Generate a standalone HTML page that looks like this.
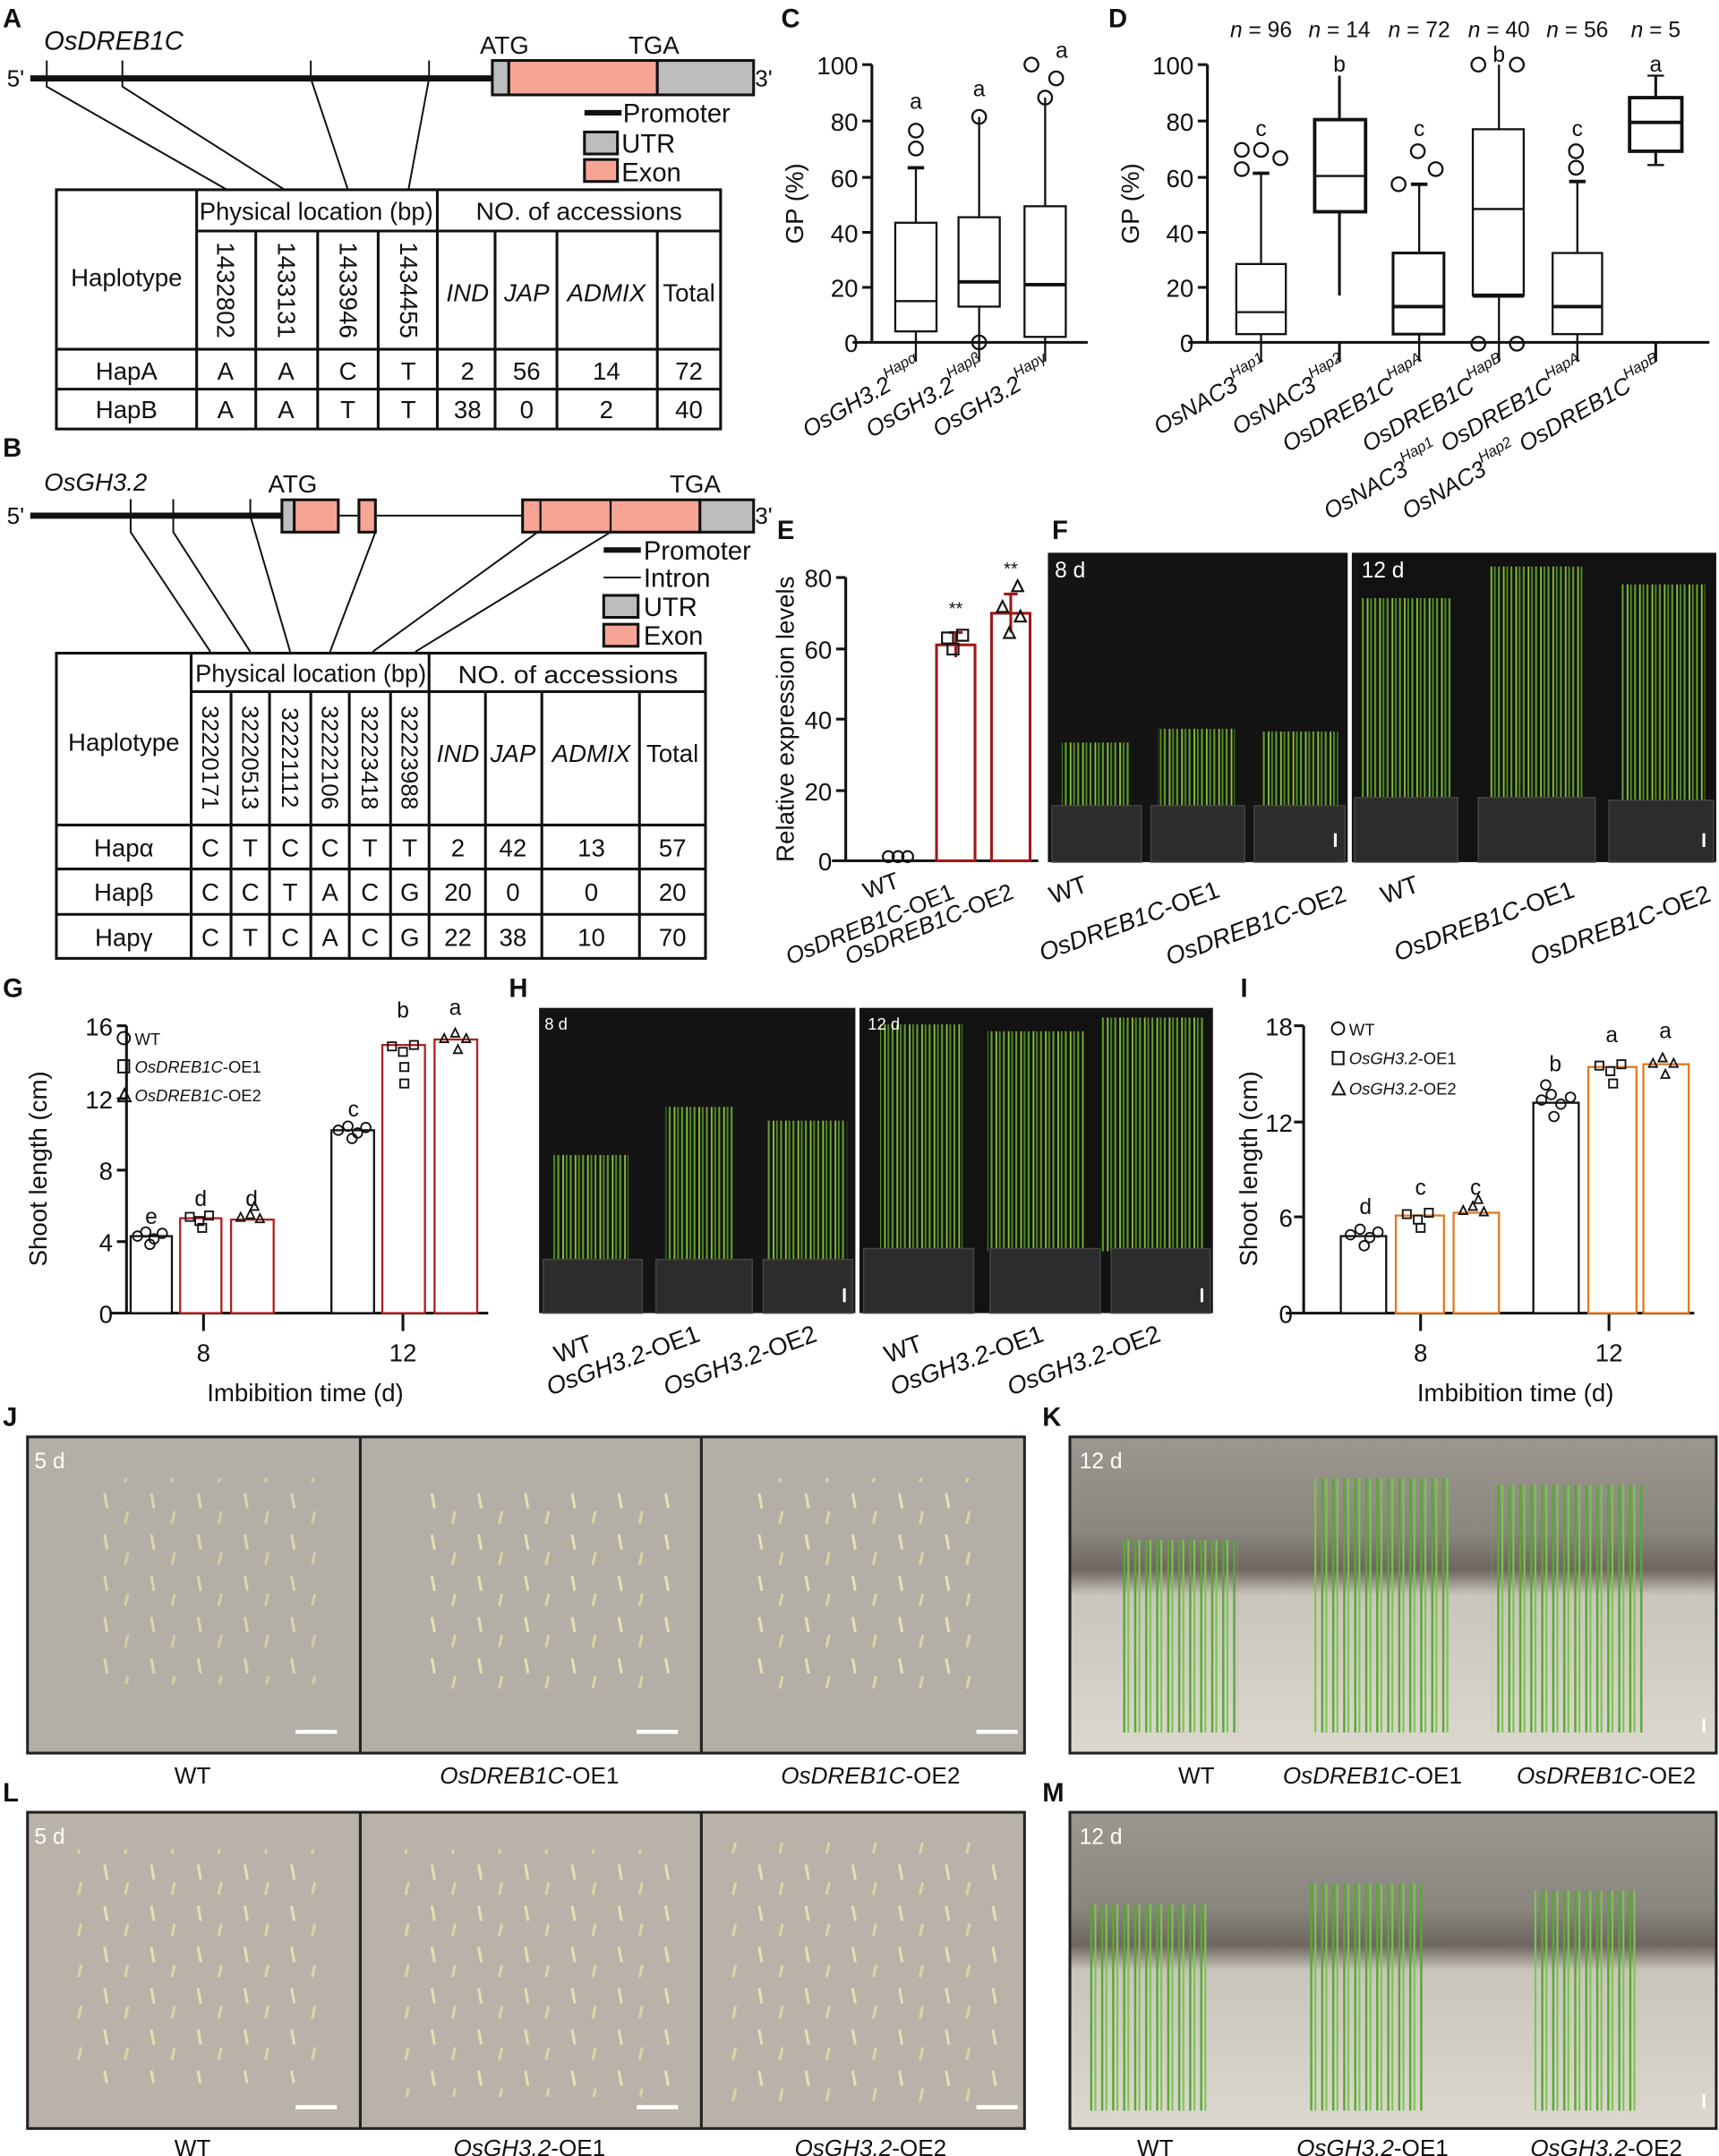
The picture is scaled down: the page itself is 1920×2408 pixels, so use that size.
<!DOCTYPE html>
<html><head><meta charset="utf-8"><style>
html,body{margin:0;padding:0;background:#fff}
svg{display:block}
text{font-family:"Liberation Sans",Arial,sans-serif;fill:#111}
.i{font-style:italic}
.b{font-weight:bold}
</style></head><body>
<svg width="1920" height="2408" viewBox="0 0 1250 1568" preserveAspectRatio="none" xmlns="http://www.w3.org/2000/svg">
<defs>
<pattern id="grass" patternUnits="userSpaceOnUse" width="9" height="300">
<line x1="1" y1="0" x2="1" y2="300" stroke="#5f9e2a" stroke-width="1.4"/>
<line x1="4.5" y1="0" x2="4.5" y2="300" stroke="#8cc43c" stroke-width="1.2"/>
<line x1="7" y1="0" x2="7" y2="300" stroke="#4d8a22" stroke-width="1.3"/>
</pattern>
<pattern id="grass2" patternUnits="userSpaceOnUse" width="8" height="300">
<line x1="1.5" y1="0" x2="1.5" y2="300" stroke="#5aa832" stroke-width="1.6"/>
<line x1="4.5" y1="0" x2="4.5" y2="300" stroke="#7cc64a" stroke-width="1.4"/>
</pattern>
<pattern id="seed" patternUnits="userSpaceOnUse" width="34" height="30">
<line x1="8" y1="6" x2="10" y2="17" stroke="#e6dfb6" stroke-width="2"/>
<line x1="25" y1="19" x2="23" y2="28" stroke="#ddd4a6" stroke-width="2"/>
</pattern>
<linearGradient id="wall" x1="0" y1="0" x2="0" y2="1">
<stop offset="0" stop-color="#9c9890"/><stop offset="0.3" stop-color="#8a8680"/><stop offset="0.42" stop-color="#6e6660"/><stop offset="0.5" stop-color="#c9c5bd"/><stop offset="1" stop-color="#dcd8d0"/>
</linearGradient>
</defs>

<!-- ============ PANEL A ============ -->
<text x="2" y="20" class="b" font-size="19">A</text>
<text x="32" y="36" class="i" font-size="19">OsDREB1C</text>
<text x="349" y="39" font-size="18">ATG</text>
<text x="457" y="39" font-size="18">TGA</text>
<text x="5" y="63" font-size="17">5'</text>
<text x="549" y="63" font-size="17">3'</text>
<line x1="22" y1="57" x2="358" y2="57" stroke="#111" stroke-width="4.5"/>
<rect x="358" y="44" width="12" height="25" fill="#bdbdbd" stroke="#111" stroke-width="2"/>
<rect x="370" y="44" width="108" height="25" fill="#f6a594" stroke="#111" stroke-width="2"/>
<rect x="478" y="44" width="70" height="25" fill="#bdbdbd" stroke="#111" stroke-width="2"/>
<g stroke="#111" stroke-width="1.3" fill="none">
<polyline points="34,44 34,63 165,138"/>
<polyline points="89,44 89,63 207,138"/>
<polyline points="226,44 226,57 253,138"/>
<polyline points="312,44 312,57 297,138"/>
</g>
<line x1="425" y1="82" x2="452" y2="82" stroke="#111" stroke-width="4"/>
<text x="453" y="89" font-size="19">Promoter</text>
<rect x="425" y="96" width="24" height="16" fill="#bdbdbd" stroke="#111" stroke-width="2"/>
<text x="452" y="111" font-size="19">UTR</text>
<rect x="425" y="116" width="24" height="16" fill="#f6a594" stroke="#111" stroke-width="2"/>
<text x="452" y="132" font-size="19">Exon</text>
<g stroke="#111" stroke-width="2" fill="none">
<rect x="41" y="138" width="483" height="174"/>
<line x1="143" y1="138" x2="143" y2="312"/>
<line x1="318" y1="138" x2="318" y2="312"/>
<line x1="143" y1="168" x2="524" y2="168"/>
<line x1="41" y1="254" x2="524" y2="254"/>
<line x1="41" y1="283" x2="524" y2="283"/>
<line x1="186" y1="168" x2="186" y2="312"/>
<line x1="231" y1="168" x2="231" y2="312"/>
<line x1="275" y1="168" x2="275" y2="312"/>
<line x1="360" y1="168" x2="360" y2="312"/>
<line x1="405" y1="168" x2="405" y2="312"/>
<line x1="478" y1="168" x2="478" y2="312"/>
</g>
<g font-size="18" text-anchor="middle">
<text x="230" y="160" textLength="170" lengthAdjust="spacingAndGlyphs">Physical location (bp)</text>
<text x="421" y="160" textLength="150" lengthAdjust="spacingAndGlyphs">NO. of accessions</text>
<text x="92" y="208">Haplotype</text>
<text x="340" y="219" class="i">IND</text>
<text x="383" y="219" class="i">JAP</text>
<text x="441" y="219" class="i">ADMIX</text>
<text x="501" y="219">Total</text>
<text x="92" y="276">HapA</text><text x="164" y="276">A</text><text x="208" y="276">A</text><text x="253" y="276">C</text><text x="297" y="276">T</text><text x="340" y="276">2</text><text x="383" y="276">56</text><text x="441" y="276">14</text><text x="501" y="276">72</text>
<text x="92" y="304">HapB</text><text x="164" y="304">A</text><text x="208" y="304">A</text><text x="253" y="304">T</text><text x="297" y="304">T</text><text x="340" y="304">38</text><text x="383" y="304">0</text><text x="441" y="304">2</text><text x="501" y="304">40</text>
</g>
<g font-size="18" text-anchor="middle">
<text transform="translate(158,211) rotate(90)">1432802</text>
<text transform="translate(202,211) rotate(90)">1433131</text>
<text transform="translate(247,211) rotate(90)">1433946</text>
<text transform="translate(291,211) rotate(90)">1434455</text>
</g>

<!-- ============ PANEL B ============ -->
<text x="2" y="332" class="b" font-size="19">B</text>
<text x="32" y="357" class="i" font-size="18">OsGH3.2</text>
<text x="195" y="358" font-size="18">ATG</text>
<text x="487" y="358" font-size="18">TGA</text>
<text x="5" y="381" font-size="17">5'</text>
<text x="549" y="381" font-size="17">3'</text>
<line x1="22" y1="375" x2="206" y2="375" stroke="#111" stroke-width="4.5"/>
<line x1="246" y1="375" x2="380" y2="375" stroke="#111" stroke-width="1.3"/>
<rect x="205" y="363.5" width="9" height="23.5" fill="#bdbdbd" stroke="#111" stroke-width="2"/>
<rect x="214" y="363.5" width="32" height="23.5" fill="#f6a594" stroke="#111" stroke-width="2"/>
<rect x="261" y="363.5" width="12" height="23.5" fill="#f6a594" stroke="#111" stroke-width="2"/>
<rect x="380" y="363.5" width="129" height="23.5" fill="#f6a594" stroke="#111" stroke-width="2"/>
<line x1="393" y1="363.5" x2="393" y2="387" stroke="#111" stroke-width="1.5"/>
<line x1="444" y1="363.5" x2="444" y2="387" stroke="#111" stroke-width="1.5"/>
<rect x="509" y="363.5" width="39" height="23.5" fill="#bdbdbd" stroke="#111" stroke-width="2"/>
<g stroke="#111" stroke-width="1.3" fill="none">
<polyline points="95,363 95,387 153,474"/>
<polyline points="126,363 126,387 182,474"/>
<polyline points="182,363 182,375 211,474"/>
<line x1="273" y1="387" x2="240" y2="474"/>
<line x1="391" y1="387" x2="271" y2="474"/>
<line x1="444" y1="387" x2="302" y2="474"/>
</g>
<line x1="439" y1="400" x2="466" y2="400" stroke="#111" stroke-width="4"/>
<text x="468" y="407" font-size="19">Promoter</text>
<line x1="439" y1="420" x2="466" y2="420" stroke="#111" stroke-width="1.3"/>
<text x="468" y="427" font-size="19">Intron</text>
<rect x="439" y="433" width="25" height="16" fill="#bdbdbd" stroke="#111" stroke-width="2"/>
<text x="468" y="448" font-size="19">UTR</text>
<rect x="439" y="454" width="25" height="16" fill="#f6a594" stroke="#111" stroke-width="2"/>
<text x="468" y="469" font-size="19">Exon</text>
<g stroke="#111" stroke-width="2" fill="none">
<rect x="41" y="475" width="472" height="222"/>
<line x1="139" y1="475" x2="139" y2="697"/>
<line x1="312" y1="475" x2="312" y2="697"/>
<line x1="139" y1="503" x2="513" y2="503"/>
<line x1="41" y1="600" x2="513" y2="600"/>
<line x1="41" y1="632" x2="513" y2="632"/>
<line x1="41" y1="665" x2="513" y2="665"/>
<line x1="168" y1="503" x2="168" y2="697"/>
<line x1="196" y1="503" x2="196" y2="697"/>
<line x1="226" y1="503" x2="226" y2="697"/>
<line x1="254" y1="503" x2="254" y2="697"/>
<line x1="284" y1="503" x2="284" y2="697"/>
<line x1="353" y1="503" x2="353" y2="697"/>
<line x1="394" y1="503" x2="394" y2="697"/>
<line x1="465" y1="503" x2="465" y2="697"/>
</g>
<g font-size="18" text-anchor="middle">
<text x="226" y="496" textLength="168" lengthAdjust="spacingAndGlyphs">Physical location (bp)</text>
<text x="413" y="497" textLength="160" lengthAdjust="spacingAndGlyphs">NO. of accessions</text>
<text x="90" y="546">Haplotype</text>
<text x="333" y="554" class="i">IND</text>
<text x="373" y="554" class="i">JAP</text>
<text x="430" y="554" class="i">ADMIX</text>
<text x="489" y="554">Total</text>
<text x="90" y="623">Hapα</text><text x="153" y="623">C</text><text x="182" y="623">T</text><text x="211" y="623">C</text><text x="240" y="623">C</text><text x="269" y="623">T</text><text x="298" y="623">T</text><text x="333" y="623">2</text><text x="373" y="623">42</text><text x="430" y="623">13</text><text x="489" y="623">57</text>
<text x="90" y="655">Hapβ</text><text x="153" y="655">C</text><text x="182" y="655">C</text><text x="211" y="655">T</text><text x="240" y="655">A</text><text x="269" y="655">C</text><text x="298" y="655">G</text><text x="333" y="655">20</text><text x="373" y="655">0</text><text x="430" y="655">0</text><text x="489" y="655">20</text>
<text x="90" y="688">Hapγ</text><text x="153" y="688">C</text><text x="182" y="688">T</text><text x="211" y="688">C</text><text x="240" y="688">A</text><text x="269" y="688">C</text><text x="298" y="688">G</text><text x="333" y="688">22</text><text x="373" y="688">38</text><text x="430" y="688">10</text><text x="489" y="688">70</text>
</g>
<g font-size="17" text-anchor="middle">
<text transform="translate(147,551) rotate(90)">32220171</text>
<text transform="translate(176,551) rotate(90)">32220513</text>
<text transform="translate(205,551) rotate(90)">32221112</text>
<text transform="translate(234,551) rotate(90)">32222106</text>
<text transform="translate(263,551) rotate(90)">32223418</text>
<text transform="translate(292,551) rotate(90)">32223988</text>
</g>

<!-- ============ PANEL C ============ -->
<text x="568" y="20" class="b" font-size="19">C</text>
<g stroke="#111" stroke-width="2" fill="none">
<line x1="634" y1="47" x2="634" y2="249"/>
<line x1="620" y1="249" x2="791" y2="249"/>
<line x1="627" y1="47" x2="634" y2="47"/><line x1="627" y1="88" x2="634" y2="88"/><line x1="627" y1="129" x2="634" y2="129"/><line x1="627" y1="169" x2="634" y2="169"/><line x1="627" y1="209" x2="634" y2="209"/>
</g>
<g font-size="18" text-anchor="end">
<text x="624" y="54">100</text><text x="624" y="95">80</text><text x="624" y="136">60</text><text x="624" y="176">40</text><text x="624" y="216">20</text><text x="624" y="256">0</text>
</g>
<text transform="translate(584,148) rotate(-90)" font-size="18" text-anchor="middle">GP (%)</text>
<g stroke="#111" stroke-width="1.5" fill="none">
<line x1="666" y1="122" x2="666" y2="263"/><line x1="660" y1="122" x2="672" y2="122" stroke-width="2.5"/>
<rect x="651" y="162" width="30" height="79" fill="#fff"/><line x1="651" y1="219" x2="681" y2="219"/>
<circle cx="666" cy="108" r="5"/><circle cx="666" cy="95" r="5"/>
<line x1="712" y1="85" x2="712" y2="263"/>
<rect x="697" y="158" width="30" height="65" fill="#fff"/><line x1="697" y1="205" x2="727" y2="205" stroke-width="2.5"/>
<circle cx="712" cy="85" r="5"/><circle cx="712" cy="249" r="5"/>
<line x1="760" y1="71" x2="760" y2="263"/>
<rect x="745" y="150" width="30" height="95" fill="#fff"/><line x1="745" y1="207" x2="775" y2="207" stroke-width="2.5"/>
<circle cx="760" cy="71" r="5"/><circle cx="768" cy="57" r="5"/><circle cx="750" cy="47" r="5"/>
</g>
<g font-size="16" text-anchor="middle"><text x="666" y="79">a</text><text x="712" y="70">a</text><text x="772" y="42">a</text></g>
<g font-size="17" class="i" text-anchor="end">
<text transform="translate(672,270) rotate(-30)">OsGH3.2<tspan font-size="11" dy="-9">Hapα</tspan></text>
<text transform="translate(718,270) rotate(-30)">OsGH3.2<tspan font-size="11" dy="-9">Hapβ</tspan></text>
<text transform="translate(766,270) rotate(-30)">OsGH3.2<tspan font-size="11" dy="-9">Hapγ</tspan></text>
</g>

<!-- ============ PANEL D ============ -->
<text x="806" y="20" class="b" font-size="19">D</text>
<g font-size="16" text-anchor="middle">
<text x="917" y="27"><tspan class="i">n</tspan> = 96</text>
<text x="974" y="27"><tspan class="i">n</tspan> = 14</text>
<text x="1032" y="27"><tspan class="i">n</tspan> = 72</text>
<text x="1090" y="27"><tspan class="i">n</tspan> = 40</text>
<text x="1147" y="27"><tspan class="i">n</tspan> = 56</text>
<text x="1204" y="27"><tspan class="i">n</tspan> = 5</text>
</g>
<g stroke="#111" stroke-width="2" fill="none">
<line x1="878" y1="47" x2="878" y2="249"/>
<line x1="864" y1="249" x2="1243" y2="249"/>
<line x1="871" y1="47" x2="878" y2="47"/><line x1="871" y1="88" x2="878" y2="88"/><line x1="871" y1="129" x2="878" y2="129"/><line x1="871" y1="169" x2="878" y2="169"/><line x1="871" y1="209" x2="878" y2="209"/>
</g>
<g font-size="18" text-anchor="end">
<text x="868" y="54">100</text><text x="868" y="95">80</text><text x="868" y="136">60</text><text x="868" y="176">40</text><text x="868" y="216">20</text><text x="868" y="256">0</text>
</g>
<text transform="translate(828,148) rotate(-90)" font-size="18" text-anchor="middle">GP (%)</text>
<g stroke="#111" stroke-width="1.5" fill="none">
<line x1="917" y1="126" x2="917" y2="263"/><line x1="911" y1="126" x2="923" y2="126" stroke-width="2.5"/>
<rect x="899" y="192" width="36" height="51" fill="#fff"/><line x1="899" y1="227" x2="935" y2="227"/>
<circle cx="903" cy="123" r="5"/><circle cx="903" cy="109" r="5"/><circle cx="917" cy="109" r="5"/><circle cx="931" cy="115" r="5"/>
<line x1="974" y1="55" x2="974" y2="215" stroke-width="2"/>
<rect x="956" y="87" width="37" height="67" fill="#fff" stroke-width="2.5"/><line x1="956" y1="128" x2="993" y2="128"/>
<line x1="1032" y1="134" x2="1032" y2="263"/><line x1="1026" y1="134" x2="1038" y2="134" stroke-width="2.5"/>
<rect x="1013" y="184" width="37" height="59" fill="#fff" stroke-width="2"/><line x1="1013" y1="223" x2="1050" y2="223" stroke-width="2.5"/>
<circle cx="1017" cy="134" r="5"/><circle cx="1031" cy="110" r="5"/><circle cx="1044" cy="123" r="5"/>
<line x1="1090" y1="47" x2="1090" y2="263"/>
<rect x="1071" y="94" width="37" height="121" fill="#fff"/><line x1="1071" y1="152" x2="1108" y2="152"/><line x1="1071" y1="215" x2="1108" y2="215" stroke-width="3"/>
<circle cx="1075" cy="47" r="5"/><circle cx="1103" cy="47" r="5"/><circle cx="1075" cy="250" r="5"/><circle cx="1103" cy="250" r="5"/>
<line x1="1147" y1="132" x2="1147" y2="263"/><line x1="1141" y1="132" x2="1153" y2="132" stroke-width="2.5"/>
<rect x="1129" y="184" width="36" height="59" fill="#fff"/><line x1="1129" y1="223" x2="1165" y2="223" stroke-width="2.5"/>
<circle cx="1146" cy="122" r="5"/><circle cx="1146" cy="110" r="5"/>
<line x1="1204" y1="55" x2="1204" y2="120" stroke-width="2"/><line x1="1198" y1="55" x2="1210" y2="55"/><line x1="1198" y1="120" x2="1210" y2="120"/>
<rect x="1185" y="71" width="38" height="39" fill="#fff" stroke-width="2.5"/><line x1="1185" y1="89" x2="1223" y2="89" stroke-width="2.5"/>
<line x1="1204" y1="249" x2="1204" y2="263" stroke-width="2"/><line x1="974" y1="249" x2="974" y2="263" stroke-width="2"/>
</g>
<g font-size="16" text-anchor="middle"><text x="917" y="99">c</text><text x="974" y="52">b</text><text x="1032" y="99">c</text><text x="1090" y="45">b</text><text x="1147" y="99">c</text><text x="1204" y="52">a</text></g>
<g font-size="17" class="i" text-anchor="end">
<text transform="translate(924,270) rotate(-30)">OsNAC3<tspan font-size="11" dy="-9">Hap1</tspan></text>
<text transform="translate(981,270) rotate(-30)">OsNAC3<tspan font-size="11" dy="-9">Hap2</tspan></text>
<text transform="translate(1039,270) rotate(-30)">OsDREB1C<tspan font-size="11" dy="-9">HapA</tspan></text>
<text transform="translate(1097,270) rotate(-30)">OsDREB1C<tspan font-size="11" dy="-9">HapB</tspan></text>
<text transform="translate(1154,270) rotate(-30)">OsNAC3<tspan font-size="11" dy="-9">Hap1</tspan><tspan dy="9"> OsDREB1C</tspan><tspan font-size="11" dy="-9">HapA</tspan></text>
<text transform="translate(1211,270) rotate(-30)">OsNAC3<tspan font-size="11" dy="-9">Hap2</tspan><tspan dy="9"> OsDREB1C</tspan><tspan font-size="11" dy="-9">HapB</tspan></text>
</g>

<!-- ============ PANEL E ============ -->
<text x="565" y="392" class="b" font-size="19">E</text>
<g stroke="#111" stroke-width="2" fill="none">
<line x1="615" y1="420" x2="615" y2="626"/>
<line x1="605" y1="626" x2="755" y2="626"/>
<line x1="608" y1="420" x2="615" y2="420"/><line x1="608" y1="472" x2="615" y2="472"/><line x1="608" y1="523" x2="615" y2="523"/><line x1="608" y1="575" x2="615" y2="575"/>
</g>
<g font-size="18" text-anchor="end"><text x="605" y="427">80</text><text x="605" y="479">60</text><text x="605" y="530">40</text><text x="605" y="582">20</text><text x="605" y="633">0</text></g>
<text transform="translate(577,523) rotate(-90)" font-size="18" text-anchor="middle">Relative expression levels</text>
<g stroke="#a01818" stroke-width="2" fill="#fff">
<rect x="681" y="469" width="28" height="157"/>
<rect x="721" y="446" width="28" height="180"/>
<line x1="695" y1="460" x2="695" y2="478"/><line x1="690" y1="460" x2="700" y2="460"/>
<line x1="735" y1="432" x2="735" y2="460"/><line x1="730" y1="432" x2="740" y2="432"/>
</g>
<g stroke="#111" stroke-width="1.4" fill="none">
<circle cx="646" cy="623" r="4"/><circle cx="653" cy="623" r="4"/><circle cx="660" cy="623" r="4"/>
<rect x="685" y="460" width="8" height="8"/><rect x="696" y="458" width="8" height="8"/><rect x="689" y="468" width="8" height="8"/>
<path d="M725,445 l4,-8 l4,8z"/><path d="M736,430 l4,-8 l4,8z"/><path d="M730,464 l4,-8 l4,8z"/><path d="M738,452 l4,-8 l4,8z"/>
</g>
<g font-size="13" text-anchor="middle"><text x="695" y="447">**</text><text x="735" y="418">**</text></g>
<g font-size="17" text-anchor="end">
<text transform="translate(655,645) rotate(-20)">WT</text>
<text transform="translate(695,653) rotate(-22)"><tspan class="i">OsDREB1C</tspan>-OE1</text>
<text transform="translate(738,653) rotate(-22)"><tspan class="i">OsDREB1C</tspan>-OE2</text>
</g>

<!-- ============ PANEL F ============ -->
<text x="765" y="392" class="b" font-size="19">F</text>
<rect x="762" y="402" width="218" height="225" fill="#141414"/>
<rect x="983" y="402" width="265" height="225" fill="#121212"/>
<rect x="772" y="540" width="50" height="48" fill="url(#grass)"/>
<rect x="842" y="530" width="56" height="58" fill="url(#grass)"/>
<rect x="918" y="532" width="55" height="56" fill="url(#grass)"/>
<rect x="990" y="435" width="65" height="150" fill="url(#grass)"/>
<rect x="1082" y="412" width="70" height="173" fill="url(#grass)"/>
<rect x="1178" y="425" width="62" height="160" fill="url(#grass)"/>
<g fill="#2c2c2c" stroke="#444" stroke-width="1">
<rect x="765" y="586" width="65" height="41"/><rect x="837" y="586" width="68" height="41"/><rect x="912" y="586" width="66" height="41"/>
<rect x="985" y="580" width="75" height="47"/><rect x="1075" y="580" width="85" height="47"/><rect x="1170" y="582" width="76" height="45"/>
</g>
<text x="767" y="420" font-size="16" style="fill:#fff">8 d</text>
<text x="990" y="420" font-size="16" style="fill:#fff">12 d</text>
<rect x="970" y="606" width="2" height="10" fill="#fff"/><rect x="1238" y="606" width="2" height="10" fill="#fff"/>
<g font-size="18" text-anchor="end">
<text transform="translate(792,648) rotate(-20)">WT</text>
<text transform="translate(888,652) rotate(-20)"><tspan class="i">OsDREB1C</tspan>-OE1</text>
<text transform="translate(980,655) rotate(-20)"><tspan class="i">OsDREB1C</tspan>-OE2</text>
<text transform="translate(1033,648) rotate(-20)">WT</text>
<text transform="translate(1146,652) rotate(-20)"><tspan class="i">OsDREB1C</tspan>-OE1</text>
<text transform="translate(1245,655) rotate(-20)"><tspan class="i">OsDREB1C</tspan>-OE2</text>
</g>

<!-- ============ PANEL G ============ -->
<text x="2" y="725" class="b" font-size="19">G</text>
<g stroke="#111" stroke-width="2" fill="none">
<line x1="92" y1="746" x2="92" y2="955"/><line x1="80" y1="955" x2="355" y2="955"/>
<line x1="85" y1="746" x2="92" y2="746"/><line x1="85" y1="799" x2="92" y2="799"/><line x1="85" y1="851" x2="92" y2="851"/><line x1="85" y1="903" x2="92" y2="903"/>
<line x1="148" y1="955" x2="148" y2="968"/><line x1="293" y1="955" x2="293" y2="968"/>
</g>
<g font-size="18" text-anchor="end"><text x="82" y="753">16</text><text x="82" y="806">12</text><text x="82" y="858">8</text><text x="82" y="910">4</text><text x="82" y="962">0</text></g>
<text transform="translate(34,850) rotate(-90)" font-size="18" text-anchor="middle">Shoot length (cm)</text>
<g stroke-width="1.5" fill="#fff">
<rect x="95" y="899" width="30" height="56" stroke="#111"/>
<rect x="131" y="886" width="30" height="69" stroke="#b02020"/>
<rect x="168" y="887" width="31" height="68" stroke="#b02020"/>
<rect x="241" y="822" width="31" height="133" stroke="#111"/>
<rect x="278" y="760" width="31" height="195" stroke="#b02020"/>
<rect x="316" y="756" width="31" height="199" stroke="#b02020"/>
</g>
<g stroke="#111" stroke-width="1.2" fill="none">
<circle cx="100" cy="899" r="3.5"/><circle cx="106" cy="896" r="3.5"/><circle cx="112" cy="901" r="3.5"/><circle cx="118" cy="897" r="3.5"/><circle cx="109" cy="905" r="3.5"/>
<rect x="135" y="882" width="6" height="6"/><rect x="142" y="885" width="6" height="6"/><rect x="149" y="881" width="6" height="6"/><rect x="144" y="890" width="6" height="6"/>
<path d="M172,888 l3,-6 l3,6z"/><path d="M179,886 l3,-6 l3,6z"/><path d="M186,889 l3,-6 l3,6z"/><path d="M182,880 l3,-6 l3,6z"/>
<circle cx="246" cy="822" r="3.5"/><circle cx="253" cy="819" r="3.5"/><circle cx="260" cy="824" r="3.5"/><circle cx="266" cy="820" r="3.5"/><circle cx="256" cy="828" r="3.5"/>
<rect x="282" y="758" width="6" height="6"/><rect x="290" y="762" width="6" height="6"/><rect x="298" y="757" width="6" height="6"/><rect x="291" y="773" width="6" height="6"/><rect x="291" y="785" width="6" height="6"/>
<path d="M320,758 l3,-6 l3,6z"/><path d="M328,754 l3,-6 l3,6z"/><path d="M336,758 l3,-6 l3,6z"/><path d="M330,766 l3,-6 l3,6z"/>
</g>
<g font-size="16" text-anchor="middle"><text x="110" y="890">e</text><text x="146" y="877">d</text><text x="183" y="877">d</text><text x="257" y="812">c</text><text x="293" y="740">b</text><text x="331" y="738">a</text></g>
<g font-size="12">
<circle cx="90" cy="755" r="4.5" fill="none" stroke="#111" stroke-width="1.3"/><text x="98" y="760">WT</text>
<rect x="86" y="771" width="8" height="9" fill="none" stroke="#111" stroke-width="1.3"/><text x="98" y="780"><tspan class="i">OsDREB1C</tspan>-OE1</text>
<path d="M86,801 l4.5,-9 l4.5,9z" fill="none" stroke="#111" stroke-width="1.3"/><text x="98" y="801"><tspan class="i">OsDREB1C</tspan>-OE2</text>
</g>
<g font-size="18" text-anchor="middle"><text x="148" y="990">8</text><text x="293" y="990">12</text><text x="222" y="1019">Imbibition time (d)</text></g>

<!-- ============ PANEL H ============ -->
<text x="370" y="725" class="b" font-size="19">H</text>
<rect x="392" y="733" width="230" height="222" fill="#141414"/>
<rect x="625" y="733" width="257" height="222" fill="#121212"/>
<rect x="402" y="840" width="55" height="78" fill="url(#grass)"/>
<rect x="484" y="805" width="50" height="113" fill="url(#grass)"/>
<rect x="558" y="815" width="58" height="103" fill="url(#grass)"/>
<rect x="640" y="745" width="60" height="165" fill="url(#grass)"/>
<rect x="718" y="750" width="70" height="160" fill="url(#grass)"/>
<rect x="800" y="740" width="75" height="170" fill="url(#grass)"/>
<g fill="#2c2c2c" stroke="#444" stroke-width="1">
<rect x="395" y="916" width="72" height="39"/><rect x="477" y="916" width="70" height="39"/><rect x="555" y="916" width="65" height="39"/>
<rect x="628" y="908" width="80" height="47"/><rect x="720" y="908" width="80" height="47"/><rect x="808" y="908" width="72" height="47"/>
</g>
<text x="396" y="749" font-size="12" style="fill:#fff">8 d</text>
<text x="631" y="749" font-size="12" style="fill:#fff">12 d</text>
<rect x="613" y="937" width="2" height="10" fill="#fff"/><rect x="873" y="937" width="2" height="10" fill="#fff"/>
<g font-size="18" text-anchor="end">
<text transform="translate(432,982) rotate(-20)">WT</text>
<text transform="translate(510,975) rotate(-20)"><tspan class="i">OsGH3.2</tspan>-OE1</text>
<text transform="translate(595,975) rotate(-20)"><tspan class="i">OsGH3.2</tspan>-OE2</text>
<text transform="translate(672,982) rotate(-20)">WT</text>
<text transform="translate(760,975) rotate(-20)"><tspan class="i">OsGH3.2</tspan>-OE1</text>
<text transform="translate(845,975) rotate(-20)"><tspan class="i">OsGH3.2</tspan>-OE2</text>
</g>

<!-- ============ PANEL I ============ -->
<text x="902" y="725" class="b" font-size="19">I</text>
<g stroke="#111" stroke-width="2" fill="none">
<line x1="948" y1="746" x2="948" y2="955"/><line x1="935" y1="955" x2="1232" y2="955"/>
<line x1="941" y1="746" x2="948" y2="746"/><line x1="941" y1="816" x2="948" y2="816"/><line x1="941" y1="885" x2="948" y2="885"/>
<line x1="1033" y1="955" x2="1033" y2="968"/><line x1="1170" y1="955" x2="1170" y2="968"/>
</g>
<g font-size="18" text-anchor="end"><text x="940" y="753">18</text><text x="940" y="823">12</text><text x="940" y="892">6</text><text x="940" y="962">0</text></g>
<text transform="translate(914,850) rotate(-90)" font-size="18" text-anchor="middle">Shoot length (cm)</text>
<g stroke-width="1.5" fill="#fff">
<rect x="975" y="899" width="33" height="56" stroke="#111"/>
<rect x="1015" y="884" width="35" height="71" stroke="#e07a20"/>
<rect x="1057" y="882" width="33" height="73" stroke="#e07a20"/>
<rect x="1115" y="802" width="33" height="153" stroke="#111"/>
<rect x="1155" y="776" width="35" height="179" stroke="#e07a20"/>
<rect x="1195" y="774" width="33" height="181" stroke="#e07a20"/>
</g>
<g stroke="#111" stroke-width="1.2" fill="none">
<circle cx="982" cy="898" r="3.5"/><circle cx="989" cy="894" r="3.5"/><circle cx="996" cy="900" r="3.5"/><circle cx="1002" cy="896" r="3.5"/><circle cx="992" cy="906" r="3.5"/>
<rect x="1020" y="880" width="6" height="6"/><rect x="1028" y="884" width="6" height="6"/><rect x="1036" y="879" width="6" height="6"/><rect x="1030" y="890" width="6" height="6"/>
<path d="M1061,883 l3,-6 l3,6z"/><path d="M1068,880 l3,-6 l3,6z"/><path d="M1076,884 l3,-6 l3,6z"/><path d="M1072,875 l3,-6 l3,6z"/>
<circle cx="1121" cy="800" r="3.5"/><circle cx="1128" cy="796" r="3.5"/><circle cx="1135" cy="803" r="3.5"/><circle cx="1142" cy="798" r="3.5"/><circle cx="1130" cy="812" r="3.5"/><circle cx="1124" cy="789" r="3.5"/>
<rect x="1160" y="772" width="6" height="6"/><rect x="1168" y="776" width="6" height="6"/><rect x="1176" y="771" width="6" height="6"/><rect x="1170" y="785" width="6" height="6"/>
<path d="M1199,776 l3,-6 l3,6z"/><path d="M1206,772 l3,-6 l3,6z"/><path d="M1214,776 l3,-6 l3,6z"/><path d="M1208,784 l3,-6 l3,6z"/>
</g>
<g font-size="16" text-anchor="middle"><text x="993" y="883">d</text><text x="1033" y="869">c</text><text x="1073" y="869">c</text><text x="1131" y="779">b</text><text x="1172" y="758">a</text><text x="1211" y="755">a</text></g>
<g font-size="12">
<circle cx="973" cy="748" r="4.5" fill="none" stroke="#111" stroke-width="1.3"/><text x="981" y="753">WT</text>
<rect x="969" y="765" width="8" height="9" fill="none" stroke="#111" stroke-width="1.3"/><text x="981" y="774"><tspan class="i">OsGH3.2</tspan>-OE1</text>
<path d="M969,796 l4.5,-9 l4.5,9z" fill="none" stroke="#111" stroke-width="1.3"/><text x="981" y="796"><tspan class="i">OsGH3.2</tspan>-OE2</text>
</g>
<g font-size="18" text-anchor="middle"><text x="1033" y="990">8</text><text x="1170" y="990">12</text><text x="1102" y="1019">Imbibition time (d)</text></g>

<!-- ============ PANEL J ============ -->
<text x="2" y="1037" class="b" font-size="19">J</text>
<rect x="20" y="1045" width="725" height="230" fill="#b3aea6" stroke="#222" stroke-width="2"/>
<rect x="60" y="1075" width="170" height="150" fill="url(#seed)" opacity="0.8"/>
<rect x="300" y="1080" width="190" height="150" fill="url(#seed)"/>
<rect x="540" y="1075" width="180" height="155" fill="url(#seed)"/>
<line x1="262" y1="1045" x2="262" y2="1275" stroke="#222" stroke-width="2"/>
<line x1="510" y1="1045" x2="510" y2="1275" stroke="#222" stroke-width="2"/>
<text x="25" y="1068" font-size="16" style="fill:#fff">5 d</text>
<rect x="215" y="1258" width="30" height="3" fill="#fff"/><rect x="463" y="1258" width="30" height="3" fill="#fff"/><rect x="710" y="1258" width="30" height="3" fill="#fff"/>
<g font-size="17" text-anchor="middle">
<text x="140" y="1297">WT</text>
<text x="385" y="1297"><tspan class="i">OsDREB1C</tspan>-OE1</text>
<text x="633" y="1297"><tspan class="i">OsDREB1C</tspan>-OE2</text>
</g>

<!-- ============ PANEL K ============ -->
<text x="758" y="1037" class="b" font-size="19">K</text>
<rect x="778" y="1045" width="470" height="230" fill="url(#wall)" stroke="#222" stroke-width="2"/>
<rect x="815" y="1120" width="85" height="140" fill="url(#grass2)"/>
<rect x="955" y="1075" width="100" height="185" fill="url(#grass2)"/>
<rect x="1085" y="1080" width="110" height="180" fill="url(#grass2)"/>
<text x="785" y="1068" font-size="16" style="fill:#fff">12 d</text>
<rect x="1238" y="1250" width="2" height="10" fill="#fff"/>
<g font-size="17" text-anchor="middle">
<text x="870" y="1297">WT</text>
<text x="998" y="1297"><tspan class="i">OsDREB1C</tspan>-OE1</text>
<text x="1168" y="1297"><tspan class="i">OsDREB1C</tspan>-OE2</text>
</g>

<!-- ============ PANEL L ============ -->
<text x="2" y="1310" class="b" font-size="19">L</text>
<rect x="20" y="1318" width="725" height="230" fill="#b8b2a8" stroke="#222" stroke-width="2"/>
<rect x="45" y="1345" width="200" height="170" fill="url(#seed)"/>
<rect x="285" y="1345" width="210" height="180" fill="url(#seed)"/>
<rect x="530" y="1340" width="200" height="190" fill="url(#seed)"/>
<line x1="262" y1="1318" x2="262" y2="1548" stroke="#222" stroke-width="2"/>
<line x1="510" y1="1318" x2="510" y2="1548" stroke="#222" stroke-width="2"/>
<text x="25" y="1341" font-size="16" style="fill:#fff">5 d</text>
<rect x="215" y="1531" width="30" height="3" fill="#fff"/><rect x="463" y="1531" width="30" height="3" fill="#fff"/><rect x="710" y="1531" width="30" height="3" fill="#fff"/>
<g font-size="17" text-anchor="middle">
<text x="140" y="1568">WT</text>
<text x="385" y="1568"><tspan class="i">OsGH3.2</tspan>-OE1</text>
<text x="633" y="1568"><tspan class="i">OsGH3.2</tspan>-OE2</text>
</g>

<!-- ============ PANEL M ============ -->
<text x="758" y="1310" class="b" font-size="19">M</text>
<rect x="778" y="1318" width="470" height="230" fill="url(#wall)" stroke="#222" stroke-width="2"/>
<rect x="790" y="1385" width="90" height="150" fill="url(#grass2)"/>
<rect x="950" y="1370" width="85" height="165" fill="url(#grass2)"/>
<rect x="1115" y="1375" width="75" height="160" fill="url(#grass2)"/>
<text x="785" y="1341" font-size="16" style="fill:#fff">12 d</text>
<rect x="1238" y="1523" width="2" height="10" fill="#fff"/>
<g font-size="17" text-anchor="middle">
<text x="840" y="1568">WT</text>
<text x="998" y="1568"><tspan class="i">OsGH3.2</tspan>-OE1</text>
<text x="1168" y="1568"><tspan class="i">OsGH3.2</tspan>-OE2</text>
</g>
</svg>
</body></html>
